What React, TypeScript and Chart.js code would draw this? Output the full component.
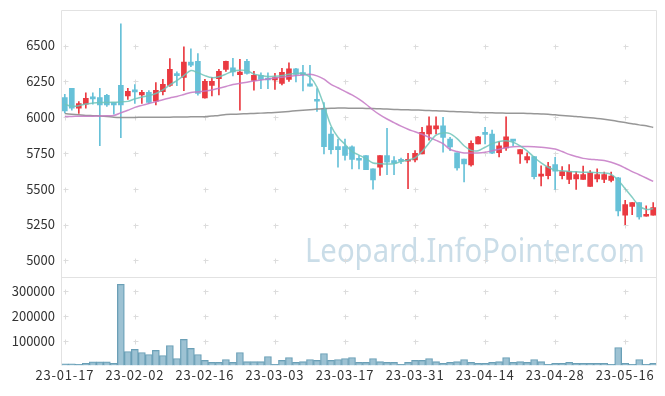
import { useEffect, useRef } from 'react';
import { Chart, registerables } from 'chart.js';

Chart.register(...registerables);

const dates = [
  '23-01-17', '23-01-18', '23-01-19', '23-01-20', '23-01-25', '23-01-26', '23-01-27', '23-01-30', '23-01-31', '23-02-01',
  '23-02-02', '23-02-03', '23-02-06', '23-02-07', '23-02-08', '23-02-09', '23-02-10', '23-02-13', '23-02-14', '23-02-15',
  '23-02-16', '23-02-17', '23-02-20', '23-02-21', '23-02-22', '23-02-23', '23-02-24', '23-02-27', '23-02-28', '23-03-02',
  '23-03-03', '23-03-06', '23-03-07', '23-03-08', '23-03-09', '23-03-10', '23-03-13', '23-03-14', '23-03-15', '23-03-16',
  '23-03-17', '23-03-20', '23-03-21', '23-03-22', '23-03-23', '23-03-24', '23-03-27', '23-03-28', '23-03-29', '23-03-30',
  '23-03-31', '23-04-03', '23-04-04', '23-04-05', '23-04-06', '23-04-07', '23-04-10', '23-04-11', '23-04-12', '23-04-13',
  '23-04-14', '23-04-17', '23-04-18', '23-04-19', '23-04-20', '23-04-21', '23-04-24', '23-04-25', '23-04-26', '23-04-27',
  '23-04-28', '23-05-02', '23-05-03', '23-05-04', '23-05-08', '23-05-09', '23-05-10', '23-05-11', '23-05-12', '23-05-15',
  '23-05-16', '23-05-17', '23-05-18', '23-05-19', '23-05-22',
];

const opens = [
  6137, 6201, 6062, 6090, 6132, 6137, 6153, 6102, 6222, 6148,
  6180, 6155, 6174, 6111, 6177, 6222, 6294, 6278, 6384, 6389,
  6134, 6222, 6269, 6333, 6345, 6297, 6389, 6257, 6292, 6271,
  6259, 6236, 6264, 6338, 6301, 6233, 6116, 6060, 5882, 5794,
  5794, 5792, 5703, 5731, 5639, 5651, 5731, 5697, 5697, 5692,
  5701, 5743, 5882, 5917, 5940, 5847, 5750, 5708, 5667, 5813,
  5885, 5882, 5752, 5785, 5837, 5743, 5701, 5724, 5588, 5592,
  5669, 5592, 5565, 5569, 5565, 5516, 5569, 5565, 5558, 5576,
  5315, 5377, 5403, 5308, 5315,
];
const highs = [
  6160, 6201, 6109, 6169, 6169, 6201, 6160, 6102, 6652, 6201,
  6227, 6188, 6185, 6241, 6264, 6408, 6317, 6491, 6477, 6444,
  6264, 6278, 6333, 6391, 6410, 6403, 6403, 6320, 6310, 6310,
  6306, 6340, 6380, 6340, 6361, 6361, 6199, 6102, 5928, 5847,
  5847, 5800, 5731, 5731, 5639, 5731, 5922, 5724, 5715, 5748,
  5766, 5928, 6002, 6002, 5998, 5859, 5750, 5708, 5835, 5866,
  5928, 5910, 5830, 6002, 5840, 5773, 5750, 5724, 5660, 5685,
  5720, 5655, 5669, 5620, 5658, 5627, 5639, 5616, 5616, 5580,
  5419, 5403, 5403, 5380, 5403,
];
const lows = [
  6030, 6049, 6026, 6062, 6090, 5800, 6075, 6021, 5856, 6123,
  6095, 6095, 6095, 6085, 6155, 6215, 6220, 6185, 6352, 6153,
  6132, 6148, 6155, 6320, 6287, 6049, 6300, 6188, 6199, 6199,
  6194, 6225, 6250, 6245, 6183, 6217, 6040, 5743, 5743, 5651,
  5700, 5639, 5639, 5634, 5497, 5593, 5599, 5599, 5675, 5500,
  5687, 5743, 5840, 5882, 5755, 5766, 5630, 5547, 5658, 5813,
  5813, 5745, 5722, 5768, 5800, 5676, 5680, 5569, 5519, 5569,
  5495, 5569, 5535, 5495, 5565, 5516, 5547, 5542, 5547, 5310,
  5250, 5319, 5287, 5308, 5315,
];
const closes = [
  6044, 6062, 6095, 6132, 6128, 6085, 6085, 6085, 6085, 6181,
  6176, 6174, 6102, 6188, 6229, 6333, 6290, 6384, 6363, 6165,
  6250, 6250, 6319, 6389, 6315, 6315, 6306, 6292, 6264, 6259,
  6276, 6313, 6338, 6299, 6297, 6217, 6111, 5794, 5773, 5773,
  5733, 5704, 5699, 5634, 5562, 5731, 5685, 5678, 5692, 5701,
  5748, 5894, 5940, 5940, 5859, 5792, 5646, 5674, 5817, 5863,
  5880, 5748, 5799, 5863, 5833, 5773, 5724, 5585, 5599, 5655,
  5623, 5620, 5620, 5599, 5599, 5611, 5599, 5599, 5588, 5345,
  5389, 5403, 5304, 5319, 5368,
];
const volumes = [
  6500, 6500, 4000, 8000, 14500, 14500, 14500, 8000, 328000, 56000,
  64500, 52000, 44000, 60500, 40000, 80500, 28000, 105000, 68500, 44000,
  20000, 12000, 12000, 24000, 12000, 52000, 15500, 15500, 15500, 36000,
  4000, 20000, 32000, 12000, 15500, 24000, 20000, 48000, 20000, 24000,
  28000, 32000, 12000, 12000, 28000, 15500, 12000, 12000, 4000, 12000,
  20000, 20000, 28000, 15500, 8000, 12000, 15500, 24000, 12000, 8000,
  8000, 12000, 15500, 32000, 12000, 15500, 12000, 24000, 15500, 4000,
  8000, 8000, 12000, 8000, 8000, 8000, 8000, 8000, 4000, 72500,
  8000, 4000, 24000, 4000, 8000,
];
const ma5 = [
  6090, 6076, 6080, 6092, 6098, 6102, 6102, 6104, 6106, 6110,
  6128, 6140, 6150, 6165, 6190, 6225, 6255, 6290, 6325, 6310,
  6290, 6276, 6282, 6300, 6322, 6328, 6325, 6300, 6290, 6283,
  6285, 6290, 6300, 6305, 6305, 6280, 6210, 6080, 5940, 5860,
  5810, 5760, 5735, 5710, 5680, 5675, 5672, 5675, 5690, 5700,
  5715, 5760, 5820, 5875, 5890, 5885, 5850, 5800, 5768, 5765,
  5790, 5815, 5830, 5835, 5825, 5800, 5765, 5720, 5680, 5650,
  5630, 5625, 5620, 5618, 5615, 5615, 5612, 5610, 5600, 5560,
  5500, 5440, 5380, 5355, 5362,
];
const ma20 = [
  6005, 6005, 6006, 6006, 6007, 6008, 6009, 6012, 6030, 6048,
  6068, 6082, 6095, 6108, 6122, 6134, 6144, 6158, 6172, 6176,
  6182, 6190, 6202, 6214, 6228, 6236, 6244, 6252, 6259, 6266,
  6273, 6279, 6285, 6290, 6295, 6299, 6288, 6265, 6229, 6205,
  6180, 6155, 6125, 6090, 6050, 6015, 5987, 5962, 5937, 5915,
  5898, 5880, 5860, 5838, 5815, 5775, 5760, 5750, 5750, 5750,
  5755, 5765, 5776, 5786, 5794, 5795, 5795, 5794, 5790, 5784,
  5777, 5760, 5740, 5725, 5712, 5706, 5702, 5697, 5685, 5668,
  5645, 5620, 5598, 5575, 5551,
];
const ma60 = [
  6025, 6020, 6016, 6012, 6010, 6008, 6005, 6000, 5998, 5998,
  5998, 5999, 5999, 6000, 6000, 6000, 6001, 6001, 6002, 6002,
  6003, 6008, 6012, 6018, 6020, 6022, 6024, 6026, 6028, 6030,
  6033, 6036, 6040, 6044, 6048, 6052, 6056, 6060, 6062, 6063,
  6063, 6062, 6062, 6061, 6060, 6058, 6056, 6054, 6052, 6051,
  6050, 6048, 6046, 6044, 6042, 6040, 6038, 6036, 6034, 6032,
  6030, 6030, 6029, 6028, 6028, 6027, 6026, 6024, 6022, 6020,
  6016, 6012, 6008, 6005, 6000, 5996, 5991, 5985, 5978, 5970,
  5962, 5954, 5946, 5940, 5928,
];

const priceTicks = [5000, 5250, 5500, 5750, 6000, 6250, 6500];
const volumeTicks = [100000, 200000, 300000];
const dateTicks = [0, 10, 20, 30, 40, 50, 60, 70, 80];

const UP = '#ea3a41';
const DOWN = '#67c1d8';
const FONT = { family: '"Noto Sans CJK KR", "Noto Sans", sans-serif', size: 13 };
const TICK_COLOR = '#333333';

export default function App() {
  const ref = useRef<HTMLCanvasElement>(null);

  useEffect(() => {
    document.body.style.margin = '0';
    const canvas = ref.current;
    if (!canvas) return;
    const candleColor = (i: number) => (closes[i] >= opens[i] ? UP : DOWN);

    const decor = {
      id: 'decor',
      beforeDatasetsDraw(chart: any) {
        const { ctx, chartArea: a, scales } = chart;
        const x = scales.x;
        const y = scales.y;
        const yv = scales.yv;
        ctx.save();
        // watermark
        ctx.font = '33px "Noto Sans", sans-serif';
        ctx.fillStyle = 'rgba(150, 188, 210, 0.5)';
        ctx.textAlign = 'right';
        ctx.textBaseline = 'alphabetic';
        ctx.fillText('Leopard.InfoPointer.com', a.right - 11, y.bottom - 15, 340);
        // frame
        ctx.strokeStyle = '#e2e2e2';
        ctx.lineWidth = 1;
        const l = Math.round(a.left) - 0.5;
        const r = Math.round(a.right) + 0.5;
        const t = Math.round(a.top) + 0.5;
        const b = Math.round(a.bottom) + 0.5;
        const sep = Math.round(y.bottom) + 0.5;
        ctx.beginPath();
        ctx.moveTo(l, b); ctx.lineTo(l, t); ctx.lineTo(r, t); ctx.lineTo(r, b);
        ctx.moveTo(l, sep); ctx.lineTo(r, sep);
        ctx.stroke();
        // plus marks
        ctx.strokeStyle = '#dcdcdc';
        const plus = (px: number, py: number) => {
          const cx = Math.round(px) + 0.5;
          const cy = Math.round(py) + 0.5;
          ctx.beginPath();
          ctx.moveTo(cx - 2, cy); ctx.lineTo(cx + 3, cy);
          ctx.moveTo(cx, cy - 2); ctx.lineTo(cx, cy + 3);
          ctx.stroke();
        };
        dateTicks.forEach((d) => {
          const px = x.getPixelForValue(d);
          priceTicks.forEach((v) => plus(px, y.getPixelForValue(v)));
          volumeTicks.forEach((v) => plus(px, yv.getPixelForValue(v)));
        });
        ctx.restore();
      },
    };

    const idx = dates.map((_, i) => i);

    const chart = new Chart(canvas, {
      type: 'bar',
      data: {
        datasets: [
          {
            type: 'line',
            label: 'MA5',
            data: idx.map((i) => ({ x: i, y: ma5[i] })),
            yAxisID: 'y',
            borderColor: 'rgba(110, 196, 186, 0.85)',
            borderWidth: 1.5,
            pointRadius: 0,
            tension: 0.3,
            order: 0,
          },
          {
            type: 'line',
            label: 'MA20',
            data: idx.map((i) => ({ x: i, y: ma20[i] })),
            yAxisID: 'y',
            borderColor: 'rgba(196, 120, 196, 0.85)',
            borderWidth: 1.5,
            pointRadius: 0,
            tension: 0.3,
            order: 0,
          },
          {
            type: 'line',
            label: 'MA60',
            data: idx.map((i) => ({ x: i, y: ma60[i] })),
            yAxisID: 'y',
            borderColor: 'rgba(140, 140, 140, 0.9)',
            borderWidth: 1.5,
            pointRadius: 0,
            tension: 0.3,
            order: 0,
          },
          {
            label: 'body',
            data: idx.map((i) => ({ x: i, y: [opens[i], closes[i]] })),
            yAxisID: 'y',
            backgroundColor: idx.map(candleColor),
            borderWidth: 0,
            barThickness: 5,
            minBarLength: 2,
            grouped: false,
            order: 1,
          },
          {
            label: 'wick',
            data: idx.map((i) => ({ x: i, y: [lows[i], highs[i]] })),
            yAxisID: 'y',
            backgroundColor: idx.map(candleColor),
            borderWidth: 0,
            barThickness: 1,
            grouped: false,
            order: 2,
          },
          {
            label: 'volume',
            data: idx.map((i) => ({ x: i, y: volumes[i] })),
            yAxisID: 'yv',
            backgroundColor: 'rgba(140, 183, 203, 0.85)',
            borderColor: '#6a9fb6',
            borderWidth: 1,
            barThickness: 7,
            grouped: false,
            order: 3,
          },
        ] as any,
      },
      options: {
        animation: false,
        responsive: false,
        devicePixelRatio: 1,
        layout: { padding: { top: 10, right: 9, bottom: 11, left: 0 } },
        plugins: { legend: { display: false }, tooltip: { enabled: false } },
        scales: {
          x: {
            type: 'linear',
            min: -0.4,
            max: 84.4,
            offset: false,
            grid: { display: false, drawTicks: false },
            border: { display: false },
            afterBuildTicks: (s: any) => {
              s.ticks = dateTicks.map((v) => ({ value: v }));
            },
            afterFit: (s: any) => {
              s.paddingLeft = 0;
              s.paddingRight = 0;
              if (!s._spaced) {
                const orig = s.drawLabels.bind(s);
                s.drawLabels = (area: any) => {
                  const c = s.ctx;
                  c.save();
                  c.letterSpacing = '0.8px';
                  orig(area);
                  c.restore();
                };
                s._spaced = true;
              }
            },
            ticks: {
              callback: (v: any) => dates[v as number],
              font: FONT,
              color: TICK_COLOR,
              padding: 2,
              maxRotation: 0,
              autoSkip: false,
            },
          },
          y: {
            type: 'linear',
            position: 'left',
            stack: 'main',
            stackWeight: 3,
            weight: 2,
            min: 4887,
            max: 6748,
            grid: { display: false, drawTicks: false },
            border: { display: false },
            afterBuildTicks: (s: any) => {
              s.ticks = priceTicks.map((v) => ({ value: v }));
            },
            afterFit: (s: any) => {
              s.width = 62;
              s.paddingTop = 0;
              s.paddingBottom = 0;
            },
            ticks: { font: FONT, color: TICK_COLOR, padding: 7, callback: (v: any) => String(v) },
          },
          yv: {
            type: 'linear',
            position: 'left',
            stack: 'main',
            stackWeight: 1,
            weight: 1,
            min: 0,
            max: 359000,
            grid: { display: false, drawTicks: false },
            border: { display: false },
            afterBuildTicks: (s: any) => {
              s.ticks = volumeTicks.map((v) => ({ value: v }));
            },
            afterFit: (s: any) => {
              s.width = 62;
              s.paddingTop = 0;
              s.paddingBottom = 0;
            },
            ticks: { font: FONT, color: TICK_COLOR, padding: 7, callback: (v: any) => String(v) },
          },
        },
      } as any,
      plugins: [decor],
    });
    return () => chart.destroy();
  }, []);

  return (
    <div style={{ width: 665, height: 396, background: '#ffffff' }}>
      <canvas ref={ref} width={665} height={396} style={{ display: 'block' }} />
    </div>
  );
}
